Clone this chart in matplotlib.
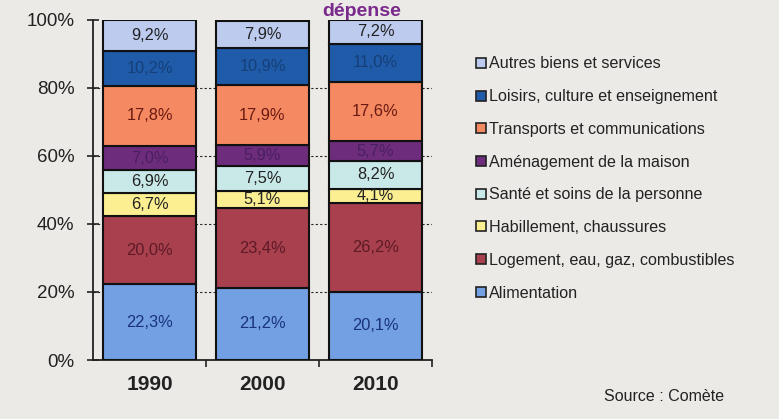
import matplotlib
matplotlib.use("Agg")
import matplotlib.pyplot as plt
from matplotlib.lines import Line2D
import numpy as np

plt.rcParams['font.family'] = ['Liberation Sans', 'DejaVu Sans']

years = ["1990", "2000", "2010"]
categories = [
    "Alimentation",
    "Logement, eau, gaz, combustibles",
    "Habillement, chaussures",
    "Santé et soins de la personne",
    "Aménagement de la maison",
    "Transports et communications",
    "Loisirs, culture et enseignement",
    "Autres biens et services",
]
alimentation = [22.3, 21.2, 20.1]
logement = [20.0, 23.4, 26.2]
habillement = [6.7, 5.1, 4.1]
sante = [6.9, 7.5, 8.2]
amenagement = [7.0, 5.9, 5.7]
transports = [17.8, 17.9, 17.6]
loisirs = [10.2, 10.9, 11.0]
autres = [9.2, 7.9, 7.2]
series = [alimentation, logement, habillement, sante, amenagement, transports, loisirs, autres]

fills = ["#72a0e2", "#a8404e", "#fbef92", "#c9e8e8", "#6e2d7c", "#f58a62", "#1f5ba8", "#bccbee"]
textcols = ["#1a3378", "#5e1a26", "#222222", "#222222", "#4a1f60", "#6a1a12", "#163f78", "#222222"]

bg = "#ebeae7"
fig = plt.figure(figsize=(7.79, 4.19), dpi=100, facecolor=bg)
ax = fig.add_axes([93/779, 1-360/419, (432-93)/779, 340/419])
ax.set_facecolor(bg)

x = np.arange(len(years))
bottom = np.zeros(len(years))
for vals, fc, tc in zip(series, fills, textcols):
    vals = np.array(vals)
    ax.bar(x, vals, bottom=bottom, width=0.82, color=fc, edgecolor="#111111",
           linewidth=1.5, zorder=3)
    for xi, b, v in zip(x, bottom, vals):
        ax.text(xi, b + v/2, f"{v:.1f}%".replace(".", ","), ha="center", va="center",
                fontsize=11.8, color=tc, zorder=4)
    bottom += vals

ax.set_xlim(-0.5, 2.5)
ax.set_ylim(0, 100)
ax.set_yticks([0, 20, 40, 60, 80, 100])
ax.set_yticklabels(["0%", "20%", "40%", "60%", "80%", "100%"], fontsize=13.5, color="#222222")
for y in [20, 40, 60, 80]:
    ax.axhline(y, color="#222222", linestyle=(0, (2, 2)), linewidth=0.8, zorder=1)

ax.set_xticks([0.5, 1.5, 2.5], minor=False)
ax.set_xticklabels([])
ax.set_xticks(x, minor=True)
ax.set_xticklabels(years, minor=True, fontsize=15, fontweight="bold", color="#222222")
ax.tick_params(axis="x", which="major", direction="out", length=5, width=1.2, color="#222222")
ax.tick_params(axis="x", which="minor", length=0, pad=11)
ax.tick_params(axis="y", direction="inout", length=9, width=1.2, color="#222222", pad=9)

for s in ["top", "right"]:
    ax.spines[s].set_visible(False)
ax.spines["left"].set_linewidth(1.3)
ax.spines["bottom"].set_linewidth(1.3)
ax.spines["left"].set_color("#222222")
ax.spines["bottom"].set_color("#222222")

handles = [Line2D([], [], marker="s", linestyle="none", markersize=7,
                  markerfacecolor=fc, markeredgecolor="#222222", markeredgewidth=1.2)
           for fc in fills]
leg = fig.legend(handles[::-1], categories[::-1], loc="upper left",
                 bbox_to_anchor=(470/779, 1-50/419), frameon=False, fontsize=11.6,
                 handlelength=0.6, handletextpad=0.2, labelspacing=1.1,
                 borderaxespad=0)
for t in leg.get_texts():
    t.set_color("#222222")

fig.text(362/779, 1-16/419, "dépense", ha="center", va="baseline", fontsize=14,
         fontweight="bold", color="#7a2a8c")
fig.text(664/779, 1-396/419, "Source : Comète", ha="center", va="center",
         fontsize=11.5, color="#222222")

fig.savefig("out.png", dpi=100, facecolor=bg)
